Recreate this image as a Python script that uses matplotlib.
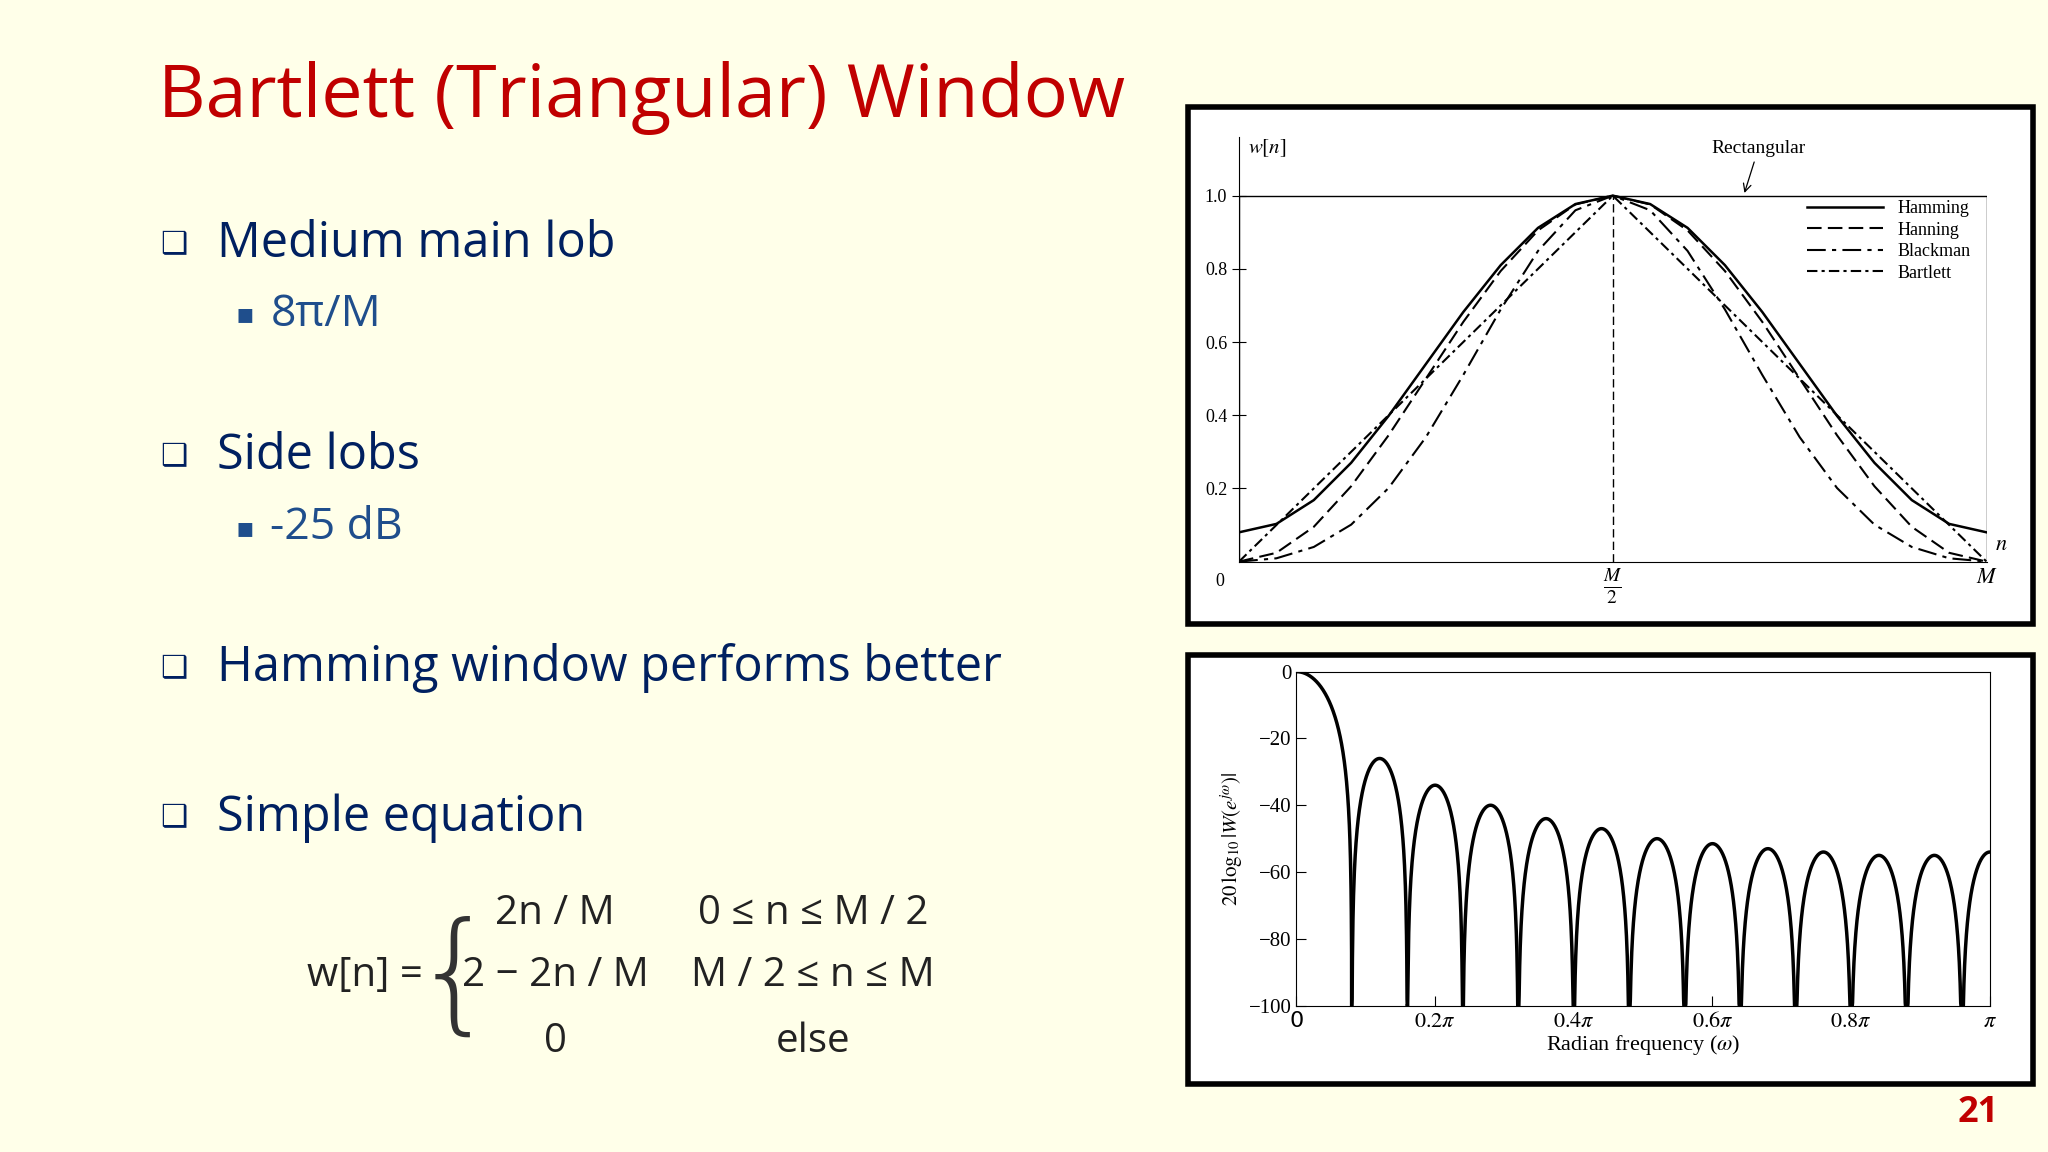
import numpy as np
import matplotlib.pyplot as plt
from matplotlib.patches import Rectangle

plt.rcParams['mathtext.fontset'] = 'stix'

# ---- data ----
# window shapes sampled at n/M = 0, 0.05, ..., 0.5 (symmetric about M/2)
n_half = [0.0, 0.05, 0.10, 0.15, 0.20, 0.25, 0.30, 0.35, 0.40, 0.45, 0.50]
hamming_half = [0.08, 0.103, 0.168, 0.270, 0.398, 0.54, 0.682, 0.810, 0.912, 0.977, 1.0]
hanning_half = [0.0, 0.024, 0.095, 0.206, 0.345, 0.50, 0.655, 0.794, 0.905, 0.976, 1.0]
blackman_half = [0.0, 0.009, 0.040, 0.101, 0.201, 0.34, 0.510, 0.689, 0.849, 0.960, 1.0]
bartlett_half = [0.0, 0.10, 0.20, 0.30, 0.40, 0.50, 0.60, 0.70, 0.80, 0.90, 1.0]

# Bartlett spectrum: nulls (in units of pi) and side-lobe peak levels (dB)
null_freqs = [0.08, 0.16, 0.24, 0.32, 0.40, 0.48, 0.56, 0.64, 0.72, 0.80, 0.88, 0.96, 1.04]
lobe_peaks = [-26, -34, -40, -44, -47, -50, -51.5, -53, -54, -55, -55, -54]

freq_ticks = [0, 0.2, 0.4, 0.6, 0.8, 1.0]
freq_labels = ['0', r'$0.2\pi$', r'$0.4\pi$', r'$0.6\pi$', r'$0.8\pi$', r'$\pi$']

RED = '#C00000'
NAVY = '#002060'
BLUE = '#1F4E8C'
SERIF = ['Liberation Serif', 'DejaVu Serif']


def mirror(half):
    return np.concatenate([half, half[-2::-1]])


fig = plt.figure(figsize=(20.48, 11.52), dpi=100)
fig.patch.set_facecolor('#FFFFE9')

# ---- slide text ----
fig.text(0.077, 0.915, 'Bartlett (Triangular) Window', color=RED, fontsize=53,
         family='Open Sans', va='center')

bullets = [(0.788, 'Medium main lob'), (0.604, 'Side lobs'),
           (0.420, 'Hamming window performs better'), (0.290, 'Simple equation')]
for y, s in bullets:
    fig.text(0.078, y, '❑', color=NAVY, fontsize=22, family='DejaVu Sans', va='center')
    fig.text(0.106, y, s, color=NAVY, fontsize=35, family='Open Sans', va='center')
subs = [(0.727, '8π/M'), (0.542, '-25 dB')]
for y, s in subs:
    fig.text(0.115, y, '▪', color=BLUE, fontsize=20, family='DejaVu Sans', va='center')
    fig.text(0.132, y, s, color=BLUE, fontsize=32, family='Open Sans', va='center')

# equation
eq_font = dict(color='#222222', fontsize=29, family='Open Sans', va='center', ha='center')
fig.text(0.150, 0.153, 'w[n] =', ha='left', va='center', color='#222222',
         fontsize=29, family='Open Sans')
fig.text(0.222, 0.150, '{', ha='center', va='center', color='#333333', fontsize=95,
         family='DejaVu Sans', fontweight='ultralight')
rows = [(0.207, '2n / M', '0 ≤ n ≤ M / 2'), (0.153, '2 − 2n / M', 'M / 2 ≤ n ≤ M'),
        (0.096, '0', 'else')]
for y, a, b in rows:
    fig.text(0.271, y, a, **eq_font)
    fig.text(0.397, y, b, **eq_font)

fig.text(0.966, 0.034, '21', color=RED, fontsize=26, fontweight='bold',
         family='Open Sans', ha='center', va='center')

# ---- panel frames (behind the axes) ----
for y0, h in [(0.458, 0.449), (0.059, 0.372)]:
    fig.patches.append(Rectangle((0.580, y0), 0.4126, h, transform=fig.transFigure,
                                 facecolor='white', edgecolor='black', lw=4, zorder=-1))

# ---- top: window shapes ----
ax1 = fig.add_axes([0.605, 0.5125, 0.365, 0.3685])
ax1.set_facecolor('none')
n_full = np.concatenate([n_half, 1 - np.array(n_half[-2::-1])])
ax1.plot([0, 0, 1, 1], [0, 1, 1, 0], color='black', lw=1.0)
ax1.plot(n_full, mirror(hamming_half), color='black', lw=1.8, ls='-', label='Hamming')
ax1.plot(n_full, mirror(hanning_half), color='black', lw=1.5, ls=(0, (7, 3)), label='Hanning')
ax1.plot(n_full, mirror(blackman_half), color='black', lw=1.5, ls=(0, (9, 3, 2, 3)), label='Blackman')
ax1.plot(n_full, mirror(bartlett_half), color='black', lw=1.5, ls=(0, (5, 2, 1.5, 2)), label='Bartlett')
ax1.plot([0.5, 0.5], [0, 1], color='black', lw=1.0, ls=(0, (6, 3)))
ax1.set_xlim(0, 1)
ax1.set_ylim(0, 1.16)
for sp in ['top', 'right']:
    ax1.spines[sp].set_visible(False)
ax1.set_yticks([0.2, 0.4, 0.6, 0.8, 1.0])
ax1.set_yticklabels(['0.2', '0.4', '0.6', '0.8', '1.0'], family=SERIF, fontsize=13)
ax1.set_xticks([0.5])
ax1.set_xticklabels([r'$\frac{M}{2}$'], fontsize=20)
ax1.tick_params(axis='y', direction='inout', length=10)
ax1.tick_params(axis='x', length=0, pad=4)
ax1.text(-0.02, -0.03, '0', family=SERIF, fontsize=13, ha='right', va='top')
ax1.text(1.0, -0.015, r'$M$', fontsize=16, ha='center', va='top')
ax1.text(1.02, 0.02, r'$n$', fontsize=16, ha='center', va='bottom')
ax1.text(0.012, 1.16, r'$w[n]$', fontsize=15, ha='left', va='top')
ax1.annotate('Rectangular', xy=(0.675, 1.0), xytext=(0.695, 1.13), family=SERIF,
             fontsize=14, ha='center', va='center',
             arrowprops=dict(arrowstyle='->', lw=0.9, color='black'))
ax1.legend(loc='upper right', bbox_to_anchor=(1.0, 0.89), frameon=False,
           prop={'family': SERIF, 'size': 13}, handlelength=4.2, labelspacing=0.25)

# ---- bottom: Bartlett spectrum ----
ax2 = fig.add_axes([0.633, 0.127, 0.3386, 0.290])
ax2.set_facecolor('none')
w = np.linspace(0, null_freqs[0], 200)
ax2.plot(w, 40 * np.log10(np.maximum(np.cos(np.pi / 2 * w / null_freqs[0]), 1e-6)),
         color='black', lw=2.5)
for a, b, p in zip(null_freqs[:-1], null_freqs[1:], lobe_peaks):
    end = min(b, 1.0)
    w = np.linspace(a, end, 200)
    lvl = p + 40 * np.log10(np.maximum(np.abs(np.sin(np.pi * (w - a) / (b - a))), 1e-6))
    ax2.plot(w, np.clip(lvl, -100, 0), color='black', lw=2.5)
ax2.set_xlim(0, 1)
ax2.set_ylim(-100, 0)
ax2.set_xticks(freq_ticks)
ax2.set_xticklabels(freq_labels, fontsize=16)
ax2.set_yticks([0, -20, -40, -60, -80, -100])
ax2.set_yticklabels(['0', '−20', '−40', '−60', '−80', '−100'], family=SERIF, fontsize=15)
ax2.tick_params(direction='in', length=7)
ax2.set_xlabel(r'Radian frequency ($\omega$)', family=SERIF, fontsize=16, labelpad=2)
ax2.set_ylabel(r'$20\,\log_{10}|W(e^{j\omega})|$', fontsize=15, labelpad=2)

fig.savefig('out.png', dpi=100, facecolor=fig.get_facecolor())
